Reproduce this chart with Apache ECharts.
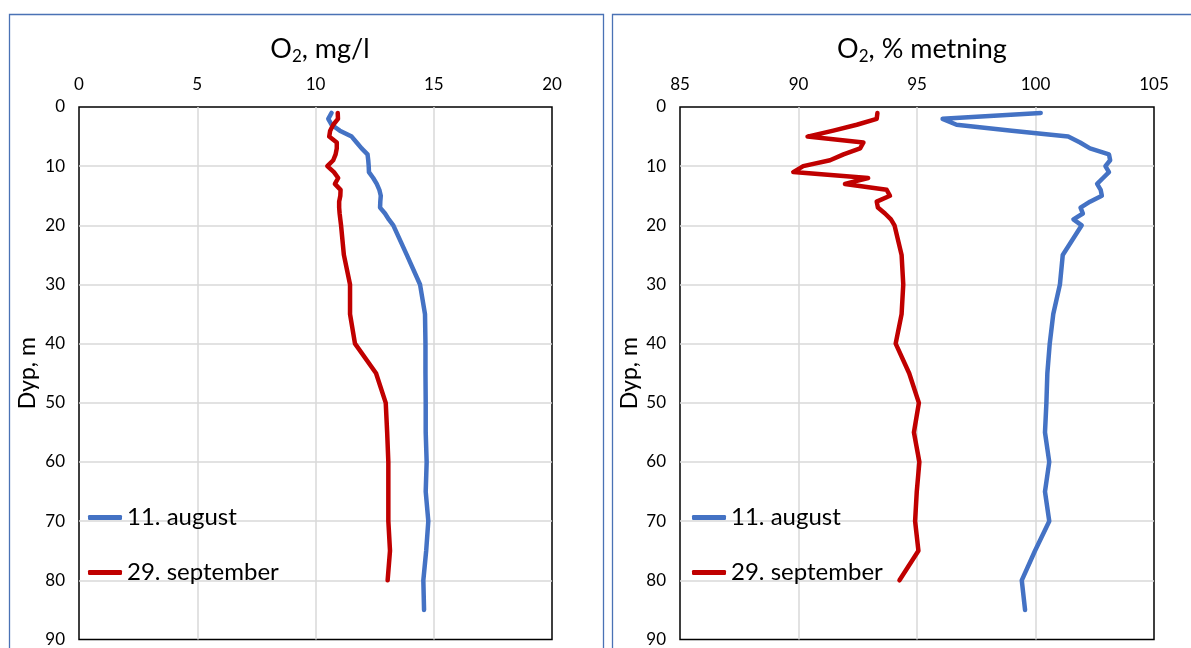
<!DOCTYPE html>
<html lang="no">
  <head>
    <meta charset="UTF-8" />
    <title>O2 profil</title>
    <script src="https://cdn.jsdelivr.net/npm/echarts@6/dist/echarts.min.js"></script>
    <style>
      body { margin: 0; background: #fff; }
    </style>
  </head>
  <body>
    <div id="main" style="width: 1191px; height: 648px"></div>

    <script>
      const myChart = echarts.init(document.getElementById("main"));

      // dybder (m)
      var depthAug = [1, 2, 3, 4, 5, 6, 7, 8, 9, 10, 11, 12, 13, 14, 15, 16, 17, 18, 19, 20,
        25, 30, 35, 40, 45, 50, 55, 60, 65, 70, 75, 80, 85];
      var depthSep = [1, 2, 3, 4, 5, 6, 7, 8, 9, 10, 11, 12, 13, 14, 15, 16, 17, 18, 19, 20,
        25, 30, 35, 40, 45, 50, 55, 60, 65, 70, 75, 80];

      // O2 mg/l
      var mglAug = [10.68, 10.54, 10.68, 11.03, 11.53, 11.74, 11.95, 12.2, 12.23, 12.25,
        12.26, 12.44, 12.59, 12.7, 12.76, 12.74, 12.73, 12.94, 13.1, 13.29,
        13.86, 14.42, 14.63, 14.65, 14.65, 14.66, 14.66, 14.7, 14.66, 14.77, 14.68, 14.56, 14.59];
      var mglSep = [10.94, 10.95, 10.75, 10.62, 10.58, 10.9, 10.9, 10.85, 10.75, 10.5,
        10.78, 10.96, 10.82, 11.06, 11.05, 11.0, 11.0, 11.02, 11.05, 11.08,
        11.2, 11.46, 11.46, 11.67, 12.56, 12.97, 13.03, 13.08, 13.08, 13.08, 13.15, 13.05];

      // O2 % metning
      var pctAug = [100.22, 96.08, 96.67, 99.0, 101.38, 101.88, 102.3, 103.1, 103.15, 102.95,
        103.1, 102.85, 102.6, 102.75, 102.8, 102.3, 101.9, 102.0, 101.6, 101.95,
        101.15, 101.03, 100.75, 100.6, 100.5, 100.46, 100.4, 100.58, 100.4, 100.58, 99.98, 99.42, 99.56];
      var pctSep = [93.33, 93.3, 92.46, 91.47, 90.38, 92.74, 92.6, 91.9, 91.33, 90.2,
        89.78, 92.94, 91.96, 93.72, 93.86, 93.3, 93.35, 93.65, 93.9, 94.05,
        94.35, 94.42, 94.35, 94.1, 94.67, 95.08, 94.87, 95.1, 94.99, 94.92, 95.06, 94.26];

      var seriesNames = ["11. august", "29. september"];
      var colors = ["#4472C4", "#C00000"];

      function pairs(xs, ds) {
        return xs.map(function (v, i) { return [v, ds[i]]; });
      }

      var font = "Lato, 'Noto Sans', sans-serif";

      function xAxis(idx, min, max) {
        return {
          type: "value",
          gridIndex: idx,
          position: "top",
          min: min,
          max: max,
          interval: 5,
          axisLine: { show: false },
          axisTick: { show: false },
          axisLabel: { color: "#000", fontSize: 17, fontFamily: font, margin: 14 },
          splitLine: { showMinLine: false, showMaxLine: false, lineStyle: { color: "#d9d9d9", width: 1.5 } },
        };
      }

      function yAxis(idx, gap) {
        return {
          type: "value",
          gridIndex: idx,
          inverse: true,
          min: 0,
          max: 90,
          interval: 10,
          name: "Dyp, m",
          nameLocation: "middle",
          nameRotate: 90,
          nameGap: gap,
          nameTextStyle: { color: "#000", fontSize: 23, fontFamily: font },
          axisLine: { show: false },
          axisTick: { show: false },
          axisLabel: { color: "#000", fontSize: 17, fontFamily: font, margin: 14 },
          splitLine: { showMinLine: false, showMaxLine: false, lineStyle: { color: "#d9d9d9", width: 1.5 } },
        };
      }

      function line(name, color, idx, data) {
        return {
          name: name,
          type: "line",
          xAxisIndex: idx,
          yAxisIndex: idx,
          data: data,
          showSymbol: false,
          symbol: "none",
          lineStyle: { color: color, width: 4.5, cap: "round", join: "round" },
          itemStyle: { color: color },
          z: 3,
        };
      }

      function legend(left) {
        return {
          orient: "vertical",
          left: left,
          top: 505,
          padding: 0,
          selectedMode: false,
          icon: "roundRect",
          itemWidth: 34,
          itemHeight: 5,
          itemGap: 30,
          data: seriesNames,
          textStyle: { color: "#000", fontSize: 24, fontFamily: font, lineHeight: 25 },
        };
      }

      var titleRich = {
        main: { fontSize: 27, fontWeight: "normal", fontFamily: font, color: "#000", lineHeight: 32 },
        sub: { fontSize: 17, fontWeight: "normal", fontFamily: font, color: "#000", lineHeight: 16, verticalAlign: "bottom" },
      };

      var options = {
        animation: false,
        title: [
          {
            text: "{main|O}{sub|2}{main|, mg/l}",
            left: 315,
            top: 28,
            textAlign: "center",
            textStyle: { fontWeight: "normal", rich: titleRich },
          },
          {
            text: "{main|O}{sub|2}{main|, % metning}",
            left: 917,
            top: 28,
            textAlign: "center",
            textStyle: { fontWeight: "normal", rich: titleRich },
          },
        ],
        graphic: [
          {
            type: "rect",
            shape: { x: 9.5, y: 14.5, width: 594, height: 700 },
            style: { fill: "none", stroke: "#4a72b5", lineWidth: 1.3 },
          },
          {
            type: "rect",
            shape: { x: 612.5, y: 14.5, width: 600, height: 700 },
            style: { fill: "none", stroke: "#4a72b5", lineWidth: 1.3 },
          },
        ],
        legend: [legend(88), legend(692)],
        grid: [
          { left: 79, top: 107, width: 473, height: 534, show: true, borderColor: "#000", borderWidth: 1.5 },
          { left: 680, top: 107, width: 474, height: 534, show: true, borderColor: "#000", borderWidth: 1.5 },
        ],
        xAxis: [xAxis(0, 0, 20), xAxis(1, 85, 105)],
        yAxis: [yAxis(0, 40), yAxis(1, 39)],
        series: [
          line(seriesNames[0], colors[0], 0, pairs(mglAug, depthAug)),
          line(seriesNames[1], colors[1], 0, pairs(mglSep, depthSep)),
          line(seriesNames[0], colors[0], 1, pairs(pctAug, depthAug)),
          line(seriesNames[1], colors[1], 1, pairs(pctSep, depthSep)),
        ],
      };

      myChart.setOption(options);
    </script>
  </body>
</html>
